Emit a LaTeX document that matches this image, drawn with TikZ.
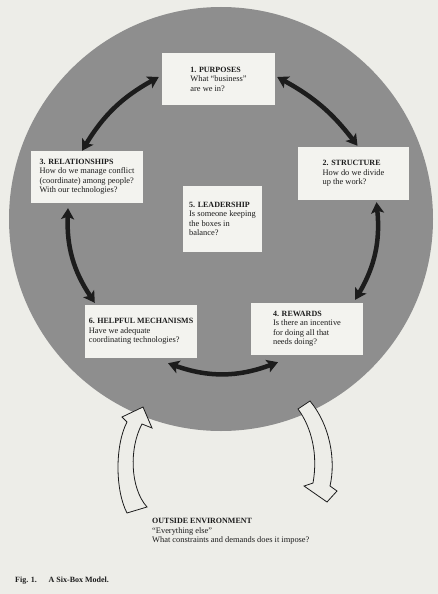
\documentclass[tikz,border=0pt]{standalone}
\usepackage{fontspec}
\setmainfont{Liberation Serif}
\usetikzlibrary{arrows.meta,positioning}
\definecolor{paper}{HTML}{EDEDE8}
\definecolor{disc}{HTML}{8E8E8E}
\definecolor{card}{HTML}{F3F3EF}
\definecolor{ink}{HTML}{1C1C1C}
\newcommand{\boxhead}[1]{{\fontsize{8}{9.5}\selectfont\bfseries #1}}
\tikzset{
  every node/.style={text=ink},
  sixbox/.style={fill=card,inner sep=0pt,align=left,font=\fontsize{8.4}{9.5}\selectfont},
  plain/.style={align=left,inner sep=0pt,font=\fontsize{8.4}{9.5}\selectfont},
  link/.style={{Stealth[length=11pt,width=13pt,inset=2.5pt]}-{Stealth[length=11pt,width=13pt,inset=2.5pt]},line width=4.5pt,draw=ink},
  hollow/.style={fill=paper,draw=ink,line width=0.8pt,line join=miter}
}

\begin{document}
\begin{tikzpicture}[x=1pt,y=1pt]
  \fill[paper] (0,0) rectangle (438,-594);
  \node[circle,fill=disc,minimum size=424pt,inner sep=0pt] (org) at (221,-219) {};

  \node[sixbox,minimum width=113pt,minimum height=52pt] (purposes) at (218.5,-79) {\boxhead{1. PURPOSES}\\What ``business''\\are we in?};
  \node[sixbox,minimum width=111pt,minimum height=53pt] (structure) at (353.5,-173.5) {\boxhead{2. STRUCTURE}\\How do we divide\\up the work?};
  \node[sixbox,minimum width=112pt,minimum height=52pt] (relations) at (87,-177) {\boxhead{3. RELATIONSHIPS}\\How do we manage conflict\\(coordinate) among people?\\With our technologies?};
  \node[sixbox,minimum width=112pt,minimum height=52pt] (rewards) at (307,-329) {\boxhead{4. REWARDS}\\Is there an incentive\\for doing all that\\needs doing?};
  \node[sixbox,minimum width=79pt,minimum height=66pt] (leadership) at (222.5,-219) {\boxhead{5. LEADERSHIP}\\Is someone keeping\\the boxes in\\balance?};
  \node[sixbox,minimum width=112pt,minimum height=53pt] (mechanisms) at (141,-331.5) {\boxhead{6. HELPFUL MECHANISMS}\\Have we adequate\\coordinating technologies?};

  \draw[link] ([xshift=-5pt]relations.north) to[bend left=15] ([shift={(-3pt,2pt)}]purposes.west);
  \draw[link] ([shift={(2pt,2pt)}]purposes.east) to[bend left=12] ([shift={(4pt,1pt)}]structure.north);
  \draw[link] ([shift={(23pt,-2pt)}]structure.south) to[bend left=18] ([shift={(-8pt,3pt)}]rewards.north east);
  \draw[link] ([shift={(-19pt,-5pt)}]relations.south) to[bend right=18] ([shift={(10pt,2pt)}]mechanisms.north west);
  \draw[link] ([shift={(27pt,-5pt)}]mechanisms.south) to[bend right=20] ([shift={(-29pt,-7pt)}]rewards.south);

  % environment in and out
  \draw[hollow] (127,-513) .. controls (115,-490) and (115,-445) .. (127,-422) -- (122,-417) -- (143,-407) -- (152,-428) -- (142,-424) .. controls (129,-448) and (130,-488) .. (147,-507) -- cycle;
  \draw[hollow] (298,-409) -- (310,-401) .. controls (330,-425) and (336,-460) .. (330,-486) -- (337,-491) -- (327,-502) -- (304,-486) -- (313,-483) .. controls (318,-455) and (312,-428) .. (298,-409) -- cycle;

  \node[plain,anchor=north west] (outside) at (152,-518) {\boxhead{OUTSIDE ENVIRONMENT}\\``Everything else''\\What constraints and demands does it impose?};
  \node[anchor=base west,inner sep=0pt,font=\fontsize{8}{9.5}\selectfont\bfseries] (caption) at (15,-582) {Fig. 1.\hspace{9pt} A Six-Box Model.};
\end{tikzpicture}
\end{document}
